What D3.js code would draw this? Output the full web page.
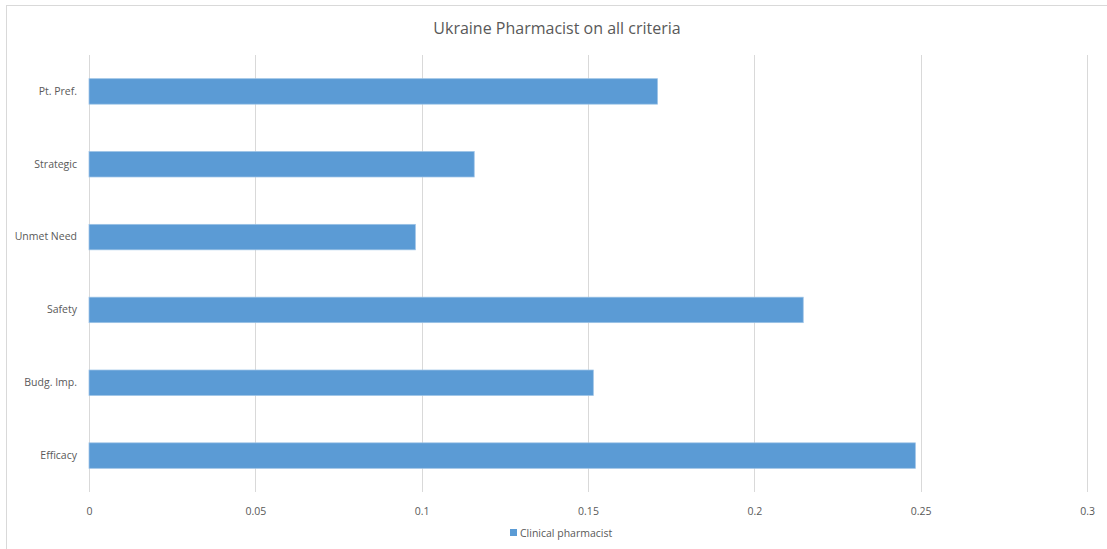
<!DOCTYPE html>
<html>
<head>
<meta charset="utf-8">
<script src="https://cdn.jsdelivr.net/npm/d3@7"></script>
<style>
  html, body { margin: 0; padding: 0; background: #fff; }
  svg { display: block; }
  text { font-family: "Open Sans", "Lato", sans-serif; }
</style>
</head>
<body>
<svg id="chart" width="1107" height="549"></svg>
<script>
const title = "Ukraine Pharmacist on all criteria";
const categories = ["Pt. Pref.", "Strategic", "Unmet Need", "Safety", "Budg. Imp.", "Efficacy"];
const seriesName = "Clinical pharmacist";
const values = [0.1709, 0.1158, 0.0981, 0.2147, 0.1516, 0.2484];
const xTicks = [0, 0.05, 0.1, 0.15, 0.2, 0.25, 0.3];
const xTickLabels = ["0", "0.05", "0.1", "0.15", "0.2", "0.25", "0.3"];

const W = 1107, H = 549;
const m = { left: 89, right: 20, top: 55, bottom: 57 };
const svg = d3.select("#chart");

// chart border
svg.append("rect").attr("x", 6.5).attr("y", 5.5).attr("width", W + 10).attr("height", H + 10)
  .attr("fill", "#fff").attr("stroke", "#d9d9d9").attr("stroke-width", 1);

const x = d3.scaleLinear().domain([0, 0.3]).range([m.left, W - m.right]);
const y = d3.scaleBand().domain(categories).range([m.top, H - m.bottom]).paddingInner(0.65).paddingOuter(0.325);

// gridlines
svg.append("g").selectAll("line").data(xTicks).join("line")
  .attr("x1", d => Math.round(x(d)) + 0.5).attr("x2", d => Math.round(x(d)) + 0.5)
  .attr("y1", m.top).attr("y2", H - m.bottom)
  .attr("stroke", "#d9d9d9").attr("stroke-width", 1);

// bars
svg.append("g").selectAll("rect").data(categories).join("rect")
  .attr("x", x(0)).attr("y", d => y(d))
  .attr("width", (d, i) => x(values[i]) - x(0))
  .attr("height", y.bandwidth())
  .attr("fill", "#5b9bd5").attr("stroke", "#9dc3e6").attr("stroke-width", 0.75);

// x axis
const xAxis = d3.axisBottom(x).tickValues(xTicks).tickFormat((d, i) => xTickLabels[i]).tickSize(0).tickPadding(9);
const gx = svg.append("g").attr("transform", `translate(0,${H - m.bottom + 7})`).call(xAxis);
gx.select(".domain").remove();
gx.selectAll("text").attr("fill", "#595959").style("font-size", "10.5px");

// y axis
const yAxis = d3.axisLeft(y).tickSize(0).tickPadding(12);
const gy = svg.append("g").attr("transform", `translate(${m.left},0)`).call(yAxis);
gy.select(".domain").remove();
gy.selectAll("text").attr("fill", "#595959").style("font-size", "10.5px");

// title
svg.append("text").attr("x", 557).attr("y", 34).attr("text-anchor", "middle")
  .attr("fill", "#595959").style("font-size", "16px").text(title);

// legend
const lg = svg.append("g").attr("transform", "translate(510,529)");
lg.append("rect").attr("x", 0).attr("y", 0).attr("width", 7).attr("height", 7).attr("fill", "#5b9bd5");
lg.append("text").attr("x", 10).attr("y", 7.5).attr("fill", "#595959").style("font-size", "10.5px").text(seriesName);
</script>
</body>
</html>
